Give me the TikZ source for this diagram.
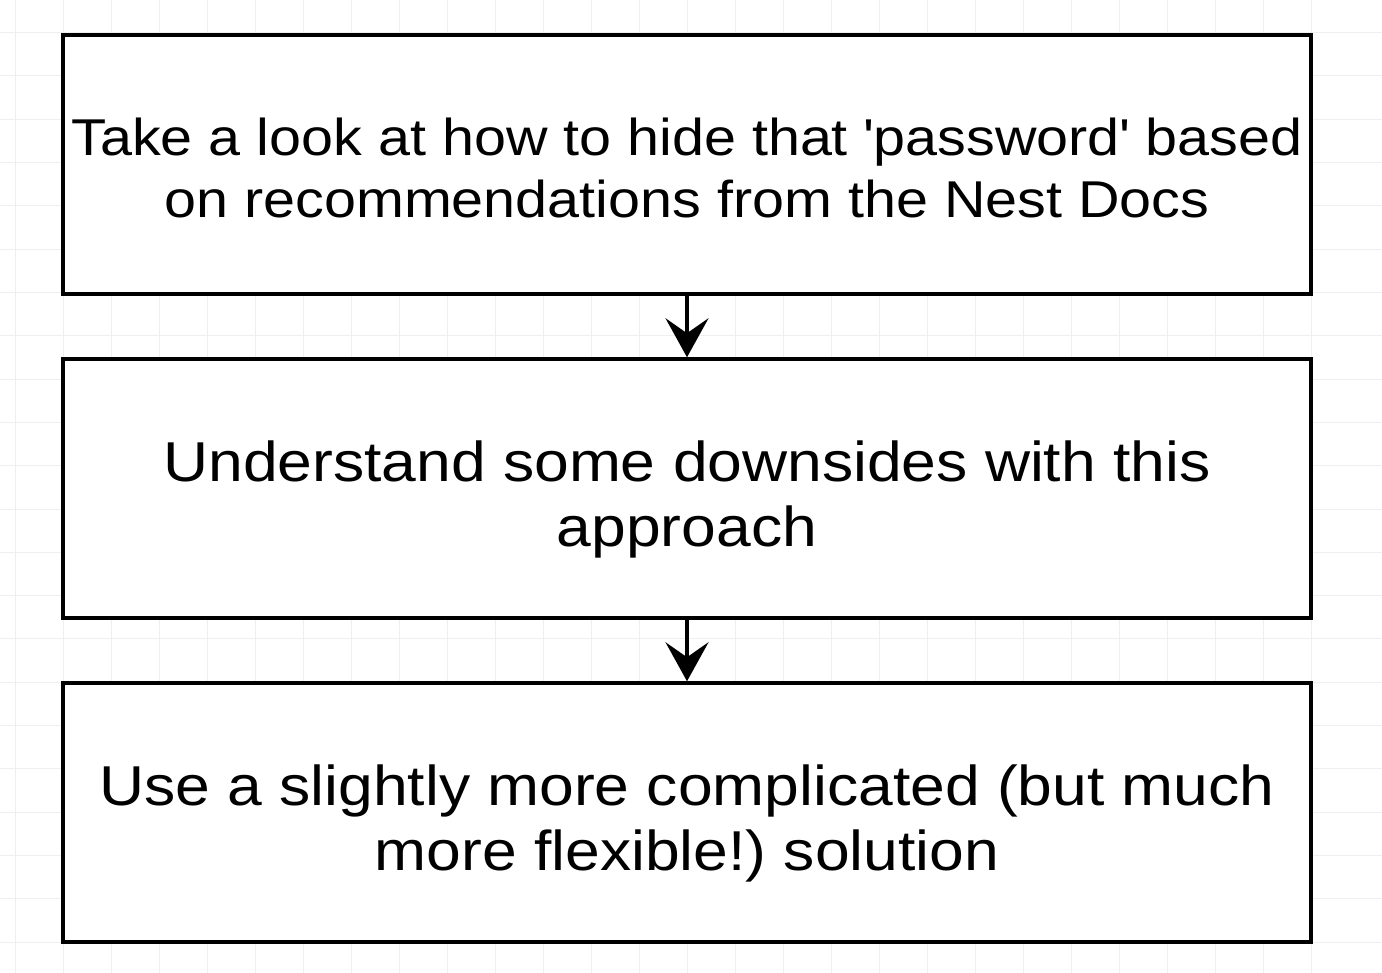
\documentclass[tikz,border=0pt]{standalone}
\usepackage{fontspec}
\setmainfont{Liberation Sans}[FakeStretch=1.11]
\usetikzlibrary{arrows.meta}
\definecolor{gridc}{HTML}{EFEFEF}
\frenchspacing
\tikzset{
  stepbox/.style={draw=black, line width=3.5pt, fill=white, minimum width=1248pt, minimum height=259pt, inner sep=0pt},
  steptext/.style={anchor=base, align=center, inner sep=0pt},
  flowarrow/.style={draw=black, line width=3.2pt, -{Stealth[length=39pt,width=43pt,inset=15pt]}}
}
\begin{document}
\begin{tikzpicture}[x=1pt,y=-1pt]
\useasboundingbox (0,0) rectangle (1382,973);
\fill[white] (0,0) rectangle (1382,973);
% faint grid
\foreach \k in {0,...,28} {\draw[gridc, line width=1pt] ({1311-48*\k},0) -- ({1311-48*\k},973);}
\foreach \k in {0,...,21} {\draw[gridc, line width=1pt] (0,{942-43.3*\k}) -- (1382,{942-43.3*\k});}
\node[stepbox] (b1) at (687,164.5) {};
\node[stepbox] (b2) at (687,488.5) {};
\node[stepbox] (b3) at (687,812.5) {};
\node[steptext, font=\fontsize{51.8}{62}\selectfont] (t1) at (687,218) {Take a look at how to hide that \textquotesingle password\textquotesingle{} based\\on recommendations from the Nest Docs};
\node[steptext, font=\fontsize{56.2}{65}\selectfont] (t2) at (687,546) {Understand some downsides with this\\approach};
\node[steptext, font=\fontsize{56.2}{65}\selectfont] (t3) at (687,870) {Use a slightly more complicated (but much\\more flexible!) solution};
\draw[flowarrow] (b1.south) -- (b2.north);
\draw[flowarrow] (b2.south) -- (b3.north);
\end{tikzpicture}
\end{document}
